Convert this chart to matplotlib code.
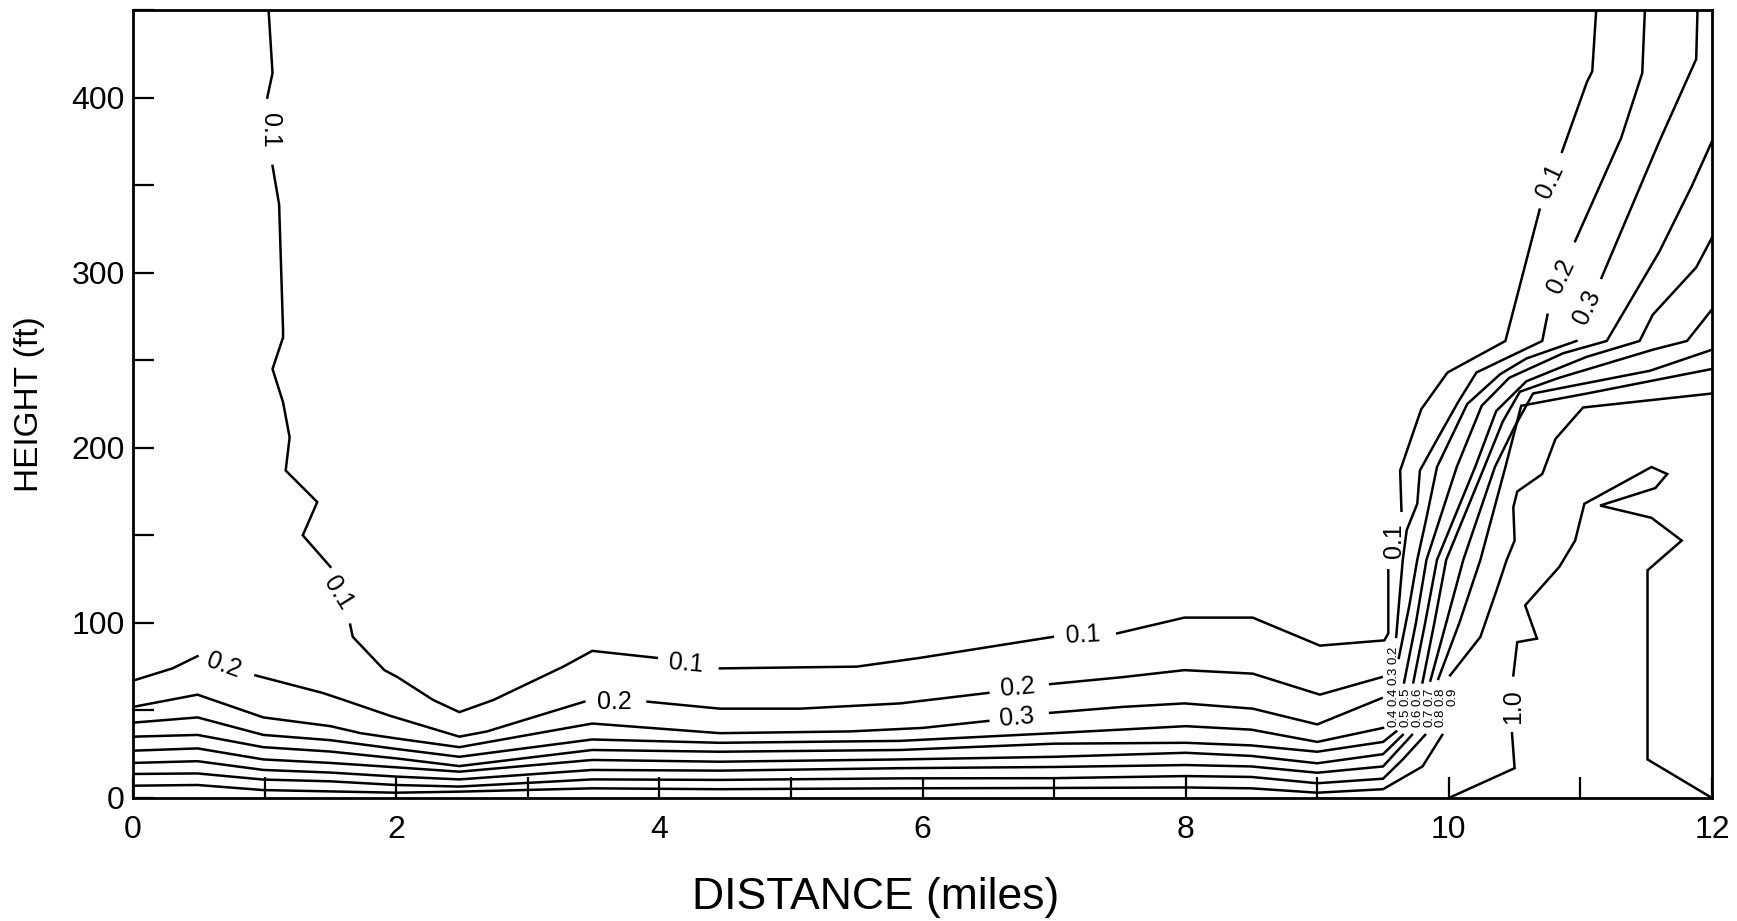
import numpy as np
import matplotlib
matplotlib.use("Agg")
import matplotlib.pyplot as plt

plt.rcParams['font.family'] = ['Liberation Sans', 'DejaVu Sans']

nan = np.nan

# contour lines (distance in miles, height in ft); nan = label gap
c01_x = [1.03, 1.06, 1.02, nan, 1.06, 1.11, 1.14, 1.14, 1.06, 1.14, 1.19, 1.16, 1.40, 1.29, 1.50, nan,
         1.65, 1.67, 1.91, 2.01, 2.28, 2.48, 2.74, 3.27, 3.49, 3.98, nan, 4.46, 5.50, 5.98, 6.99, nan,
         7.48, 7.99, 8.51, 9.02, 9.51, 9.54, 9.54, nan, 9.64, 9.63, 9.79, 9.99, 10.43, 10.69, nan,
         10.86, 11.05, 11.09, 11.12]
c01_y = [450, 414, 400, nan, 361, 339, 267, 263, 245, 226, 206, 187, 169, 150, 132, nan,
         99, 92, 73, 69, 56, 49, 56, 75, 84, 80, nan, 74, 75, 80, 92, nan,
         94, 103, 103, 87, 90, 94, 130, nan, 164, 187, 222, 243, 261, 336, nan,
         369, 409, 415, 450]

c02_x = [0, 0.30, 0.49, nan, 0.93, 1.44, 1.60, 1.95, 2.48, 2.69, 3.43, nan, 3.91, 4.46, 5.07, 5.83, 6.50, nan,
         6.97, 7.52, 7.99, 8.51, 9.02, 9.49, nan, 9.60, 9.62, 9.65, 9.68, 9.76, 9.78, 9.92, 10.07, 10.21,
         10.71, 10.75, nan, 10.96, 11.31, 11.47, 11.49]
c02_y = [67, 74, 81, nan, 70, 60, 56, 47, 35, 38, 55, nan, 55, 51, 51, 54, 60, nan,
         65, 69, 73, 71, 59, 69, nan, 92, 110, 136, 153, 168, 187, 206, 226, 243,
         261, 276, nan, 318, 377, 414, 450]

c03_x = [0, 0.49, 0.99, 1.5, 1.73, 2.0, 2.48, 3.49, 4.46, 5.45, 6.0, 6.50, nan, 6.97, 7.52, 7.99, 8.51, 9.0, 9.49, nan,
         9.62, 9.70, 9.76, 9.83, 9.91, 10.14, 10.39, 10.59, 10.97, nan, 11.16, 11.60, 11.88, 11.89]
c03_y = [52, 59, 46, 41, 37, 34, 29, 42.5, 37, 38, 40, 44, nan, 48.6, 52, 54, 51, 42, 57, nan,
         80, 110, 136, 160, 189, 225, 242, 251, 261, nan, 297, 375, 422, 450]

c04_x = [0, 0.49, 0.99, 1.5, 2.0, 2.48, 3.49, 4.46, 5.83, 7.0, 8.0, 8.5, 9.0, 9.5, nan,
         9.66, 9.75, 9.83, 10.06, 10.25, 10.46, 10.87, 11.2, 11.6, 11.85, 12.0]
c04_y = [43, 46, 36, 33, 28, 23.5, 33.4, 31.5, 32.6, 37, 41, 39, 32, 40, nan,
         66, 100, 136, 189, 224, 240, 254, 261, 312, 350, 375]

c05_x = [0, 0.49, 0.99, 1.5, 2.0, 2.48, 3.49, 4.46, 5.83, 7.0, 8.0, 8.5, 9.0, 9.5, 9.6, nan,
         9.73, 9.82, 9.91, 10.20, 10.36, 10.59, 11.05, 11.45, 11.55, 11.88, 12.0]
c05_y = [35, 36, 29, 26.5, 22.6, 18.2, 27.4, 26.4, 27.4, 31, 31.5, 30, 26.4, 32, 38, nan,
         66, 100, 136, 189, 221, 238, 252, 261, 276, 303, 320]

c06_x = [0, 0.49, 0.99, 1.5, 2.0, 2.48, 3.49, 4.46, 5.83, 7.0, 8.0, 8.5, 9.0, 9.5, 9.65, nan,
         9.80, 9.89, 9.98, 10.27, 10.41, 10.54, 10.84, 11.55, 11.81, 12.0]
c06_y = [27, 28.3, 22, 20, 17.5, 15, 21.7, 20.7, 22, 23.5, 25.8, 24, 19.8, 25, 36, nan,
         66, 100, 136, 189, 215, 232, 240, 256, 261, 279]

c07_x = [0, 0.49, 0.99, 1.5, 2.0, 2.48, 3.49, 4.46, 5.83, 7.0, 8.0, 8.5, 9.0, 9.5, 9.72, nan,
         9.86, 9.98, 10.11, 10.35, 10.50, 10.64, 11.53, 12.0]
c07_y = [20, 21, 16, 14.5, 12.2, 10.6, 16, 15.6, 17, 17.7, 18.8, 18, 14.4, 18, 36, nan,
         67, 100, 136, 189, 212, 231, 244, 256]

c08_x = [0, 0.49, 0.99, 1.5, 2.0, 2.48, 3.49, 4.46, 5.83, 7.0, 8.0, 8.5, 9.0, 9.5, 9.65, 9.82, nan,
         9.92, 10.08, 10.24, 10.43, 10.55, 11.05, 12.0]
c08_y = [13.7, 14, 10.5, 9.5, 7.4, 6.5, 10.6, 10.3, 11.2, 11.3, 12.5, 12, 8.4, 11, 22, 36, nan,
         68, 100, 136, 189, 224, 231, 245]

c09_x = [0, 0.49, 0.99, 2.0, 2.48, 3.49, 4.46, 5.83, 7.0, 8.0, 8.5, 9.0, 9.5, 9.80, 9.95, nan,
         10.01, 10.24, 10.36, 10.44, 10.50, 10.49, 10.52, 10.71, 10.81, 11.02, 12.0]
c09_y = [7, 7.4, 4.5, 3, 3.6, 5.5, 5, 5.5, 5.7, 6, 5.5, 3, 5, 18, 36, nan,
         70, 92, 118, 136, 147, 166, 175, 185, 205, 223, 231]

c10_x = [10.0, 10.50, 10.48, nan, 10.49, 10.52, 10.67, 10.58, 10.84, 10.96, 11.03, 11.54, 11.66, 11.57,
         11.15, 11.54, 11.77, 11.51, 11.51, 12.0]
c10_y = [0, 17, 37, nan, 70, 89, 91, 110, 132, 147, 168, 189, 185, 177,
         167, 160, 147, 130, 22, 0]

levels = [(c01_x, c01_y), (c02_x, c02_y), (c03_x, c03_y), (c04_x, c04_y), (c05_x, c05_y),
          (c06_x, c06_y), (c07_x, c07_y), (c08_x, c08_y), (c09_x, c09_y), (c10_x, c10_y)]

# contour labels: text, x, y, rotation
lab_text = ["0.1", "0.1", "0.1", "0.1", "0.1", "0.1", "0.2", "0.2", "0.2", "0.3", "0.2", "0.3", "1.0"]
lab_x = [1.04, 1.56, 4.20, 7.22, 9.58, 10.77, 0.69, 3.66, 6.72, 6.72, 10.85, 11.05, 10.49]
lab_y = [381, 117, 77, 93, 147, 352, 76, 55, 63, 46, 298, 280, 52]
lab_rot = [-90, -58, -5, 3, 90, 65, -20, 0, 5, 5, 65, 65, 90]

# crowded labels where the lines bunch up near 9.5 miles
crowd_text = ["0.2", "0.3", "0.4", "0.5", "0.6", "0.7", "0.8", "0.9", "0.4", "0.5", "0.6", "0.7", "0.8"]
crowd_x = [9.58, 9.58, 9.58, 9.67, 9.76, 9.85, 9.94, 10.03, 9.58, 9.67, 9.76, 9.85, 9.94]
crowd_y = [82, 70, 58, 58, 58, 58, 58, 58, 46, 46, 46, 46, 46]

fig = plt.figure(figsize=(17.37, 9.21), dpi=100)
ax = fig.add_axes([0.0766, 0.1336, 0.909, 0.8555])

for xs, ys in levels:
    ax.plot(xs, ys, color="black", lw=1.8, solid_joinstyle="miter")

for t, x, y, r in zip(lab_text, lab_x, lab_y, lab_rot):
    ax.text(x, y, t, rotation=r, ha="center", va="center", fontsize=18, rotation_mode="anchor")

for t, x, y in zip(crowd_text, crowd_x, crowd_y):
    ax.text(x, y, t, rotation=90, ha="center", va="center", fontsize=9.5, rotation_mode="anchor")

ax.set_xlim(0, 12)
ax.set_ylim(0, 450)
ax.set_xticks(range(0, 13))
ax.set_xticklabels([str(i) if i % 2 == 0 else "" for i in range(0, 13)])
ax.set_yticks(range(0, 451, 50))
ax.set_yticklabels([str(v) if v % 100 == 0 else "" for v in range(0, 451, 50)])
ax.tick_params(axis="both", direction="in", length=15, width=1.6, labelsize=23)
ax.tick_params(axis="x", pad=12)
ax.tick_params(axis="y", pad=6)
for s in ax.spines.values():
    s.set_linewidth(2)

ax.set_xlabel("DISTANCE (miles)", fontsize=32)
ax.xaxis.set_label_coords(0.47, -0.1)
ax.set_ylabel("HEIGHT (ft)", fontsize=24)
ax.yaxis.set_label_coords(-0.056, 0.5)

fig.savefig("out.png", dpi=100)
